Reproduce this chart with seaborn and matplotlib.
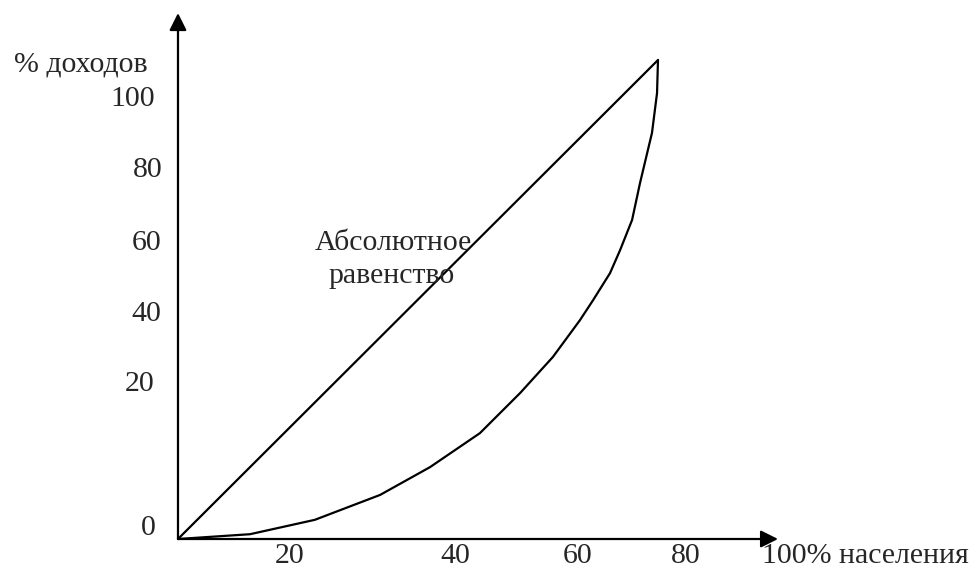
import numpy as np
import pandas as pd
import matplotlib
matplotlib.use("Agg")
import matplotlib.pyplot as plt
import seaborn as sns

# schematic Lorenz diagram, values in "share" units (0..100 on each axis)
equality_x = [0, 100]
equality_y = [0, 100]

lorenz_x = [0, 15, 28.5, 42.1, 52.5, 62.9, 71.3, 78.1, 83.75, 86.5, 90.0, 92.1, 94.6, 96.25, 98.75, 99.8, 100]
lorenz_y = [0, 1.0, 4.0, 9.2, 15.0, 22.1, 30.5, 38.0, 45.7, 49.9, 55.5, 60.3, 66.6, 74.3, 84.8, 93.1, 100]

y_labels = ["100", "80", "60", "40", "20", "0"]
x_labels = ["20", "40", "60", "80", "100% населения"]
y_title = "% доходов"
inner_label = ["Абсолютное", "равенство"]

# label placement (the labels in the picture are not to scale), baselines
y_label_pos = [(-9.4, 90.3), (-6.4, 75.5), (-6.5, 60.4), (-6.5, 45.6), (-7.9, 30.8), (-6.2, 0.9)]
x_label_pos = [(23.3, -5.1), (57.7, -5.1), (83.3, -5.1), (105.8, -5.1), (143.2, -5.1)]
y_title_pos = (-20.2, 97.7)
inner_pos = [(44.8, 60.3), (44.6, 53.4)]

sns.set_style("white")
plt.rcParams["font.family"] = ["Liberation Serif", "DejaVu Serif"]

fig = plt.figure(figsize=(9.76, 5.72), dpi=100)
ax = fig.add_axes([0, 0, 1, 1])

sns.lineplot(x=equality_x, y=equality_y, ax=ax, color="black", lw=1.6)
df = pd.DataFrame({"x": lorenz_x, "y": lorenz_y})
sns.lineplot(data=df, x="x", y="y", ax=ax, color="black", lw=1.6, sort=False,
             solid_joinstyle="round")

ax.set_xlim(-37.08, 166.25)
ax.set_ylim(-6.89, 112.53)
ax.axis("off")

# axes with arrow heads
arrow = dict(arrowstyle="-|>", lw=1.6, color="black", mutation_scale=26, shrinkA=0, shrinkB=0)
ax.annotate("", xy=(0, 109.8), xytext=(0, 0), arrowprops=arrow)
ax.annotate("", xy=(125, 0), xytext=(0, 0), arrowprops=arrow)

fs = 21.5
for lab, (px, py) in zip(y_labels, y_label_pos):
    ax.text(px, py, lab, fontsize=fs, ha="center", va="baseline")
for lab, (px, py) in zip(x_labels, x_label_pos):
    ax.text(px, py, lab, fontsize=fs, ha="center", va="baseline")
ax.text(*y_title_pos, y_title, fontsize=fs, ha="center", va="baseline")
for lab, (px, py) in zip(inner_label, inner_pos):
    ax.text(px, py, lab, fontsize=fs, ha="center", va="baseline")

fig.savefig("out.png", dpi=100)
